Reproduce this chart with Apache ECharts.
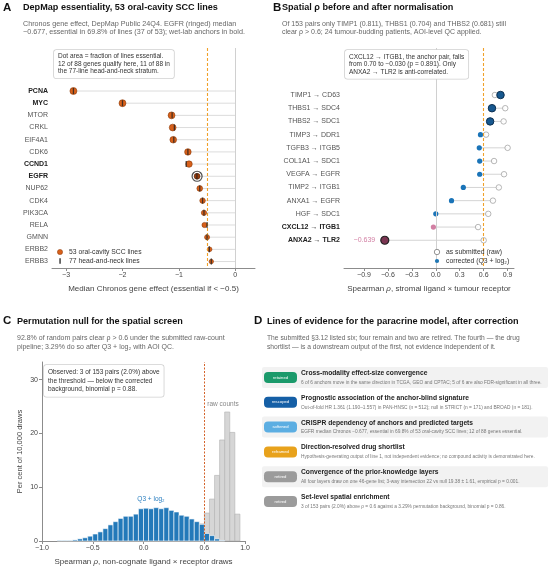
<!DOCTYPE html>
<html>
<head>
<meta charset="utf-8">
<script src="https://cdn.jsdelivr.net/npm/echarts@6/dist/echarts.min.js"></script>
<style>
  html, body { margin: 0; padding: 0; background: #fff; }
  #main { width: 550px; height: 567px; }
</style>
</head>
<body>
<div id="main"></div>
<script>
/* ---- panel A : DepMap essentiality ---- */
var genes = ['PCNA', 'MYC', 'MTOR', 'CRKL', 'EIF4A1', 'CDK6', 'CCND1', 'EGFR',
             'NUP62', 'CDK4', 'PIK3CA', 'RELA', 'GMNN', 'ERBB2', 'ERBB3'];
var oralMedian = [-2.87, -2.00, -1.13, -1.11, -1.10, -0.84, -0.82, -0.677,
                  -0.63, -0.58, -0.555, -0.545, -0.50, -0.455, -0.425];
var hnMedian = [-2.87, -2.00, -1.12, -1.08, -1.09, -0.84, -0.87, -0.68,
                -0.63, -0.58, -0.555, -0.50, -0.50, -0.46, -0.425];
var fracEssential = [1.0, 0.98, 0.96, 0.94, 0.90, 0.87, 0.85, 0.698,
                     0.66, 0.62, 0.57, 0.55, 0.51, 0.45, 0.40];
var anchorGenes = ['PCNA', 'MYC', 'CCND1', 'EGFR'];
var geneTicks = [-3, -2, -1, 0];

/* ---- panel B : spatial rho ---- */
var pairs = ['TIMP1 → CD63', 'THBS1 → SDC4', 'THBS2 → SDC1', 'TIMP3 → DDR1',
             'TGFB3 → ITGB5', 'COL1A1 → SDC1', 'VEGFA → EGFR', 'TIMP2 → ITGB1',
             'ANXA1 → EGFR', 'HGF → SDC1', 'CXCL12 → ITGB1', 'ANXA2 → TLR2'];
var rhoRaw = [0.74, 0.87, 0.85, 0.63, 0.90, 0.73, 0.855, 0.79, 0.716, 0.657, 0.53, 0.60];
var rhoCorrected = [0.811, 0.704, 0.681, 0.56, 0.545, 0.55, 0.55, 0.345, 0.197, 0.0, -0.030, -0.639];
var rhoTicks = [-0.9, -0.6, -0.3, 0, 0.3, 0.6, 0.9];

/* ---- panel C : permutation null ---- */
var binWidth = 0.05;
var q3BinLeft = [-0.85, -0.80, -0.75, -0.70, -0.65, -0.60, -0.55, -0.50, -0.45, -0.40, -0.35,
                 -0.30, -0.25, -0.20, -0.15, -0.10, -0.05, 0.00, 0.05, 0.10, 0.15, 0.20,
                 0.25, 0.30, 0.35, 0.40, 0.45, 0.50, 0.55, 0.60, 0.65, 0.70, 0.75];
var q3Pct = [0.1, 0.1, 0.1, 0.2, 0.4, 0.6, 0.9, 1.3, 1.7, 2.3, 3.0,
             3.6, 4.2, 4.6, 4.6, 5.0, 6.0, 6.1, 6.0, 6.2, 6.0, 6.2,
             5.7, 5.4, 4.8, 4.6, 4.1, 3.6, 3.1, 1.4, 1.0, 0.4, 0.1];
var rawBinLeft = [0.55, 0.60, 0.65, 0.70, 0.75, 0.80, 0.85, 0.90];
var rawPct = [3.2, 5.2, 7.8, 12.2, 18.8, 24.0, 20.2, 5.0];
var nullTicks = [-1, -0.5, 0, 0.6, 1];
var pctTicks = [0, 10, 20, 30];

/* ---- panel D : lines of evidence ---- */
var evidenceStatus = ['retained', 'rescoped', 'softened', 'reframed', 'retired', 'retired'];
var evidenceTitle = [
  'Cross-modality effect-size convergence',
  'Prognostic association of the anchor-blind signature',
  'CRISPR dependency of anchors and predicted targets',
  'Direction-resolved drug shortlist',
  'Convergence of the prior-knowledge layers',
  'Set-level spatial enrichment'
];
var evidenceNote = [
  '6 of 6 anchors move in the same direction in TCGA, GEO and CPTAC; 5 of 6 are also FDR-significant in all three.',
  'Out-of-fold HR 1.361 (1.190–1.557) in PAN-HNSC (n = 512); null in STRICT (n = 171) and BROAD (n = 181).',
  'EGFR median Chronos −0.677, essential in 69.8% of 53 oral-cavity SCC lines; 12 of 88 genes essential.',
  'Hypothesis-generating output of line 1, not independent evidence; no compound activity is demonstrated here.',
  'All four layers draw on one 46-gene list; 3-way intersection 22 vs null 19.38 ± 1.61, empirical p = 0.001.',
  '3 of 153 pairs (2.0%) above ρ = 0.6 against a 3.29% permutation background, binomial p = 0.86.'
];

var FONT = '"Liberation Sans", Arial, sans-serif';
var statusColor = {
  retained: '#1b9a6b', rescoped: '#155fa6', softened: '#5caee2',
  reframed: '#e8a21c', retired: '#9b9b9b'
};

function fmt(v, d) {
  var s = Math.abs(v).toFixed(d);
  return (v < -1e-9 ? '−' : '') + s;
}

function txt(x, y, s, size, color, weight, align) {
  return {
    type: 'text', z: 100, silent: true,
    style: {
      text: s, x: x, y: y, fill: color,
      fontSize: size, fontWeight: weight || 'normal', fontFamily: FONT,
      align: align || 'left', verticalAlign: 'middle',
      textAlign: align || 'left', textVerticalAlign: 'middle'
    }
  };
}

function note(x, y, s, lh) {
  return {
    type: 'text', z: 100, silent: true,
    style: {
      text: s, x: x, y: y, fill: '#333', fontSize: 6.5, fontFamily: FONT,
      lineHeight: lh, backgroundColor: '#fff', borderColor: '#d0d0d0',
      borderWidth: 0.8, borderRadius: 2.5, padding: [3, 4, 3, 4],
      align: 'left', verticalAlign: 'top', textAlign: 'left', textVerticalAlign: 'top'
    }
  };
}

// stem between two x values on one row
function stemItem(color) {
  return function (params, api) {
    var a = api.coord([api.value(0), api.value(2)]);
    var b = api.coord([api.value(1), api.value(2)]);
    return {
      type: 'line', shape: { x1: a[0], y1: a[1], x2: b[0], y2: b[1] },
      style: { stroke: color, lineWidth: 1 }
    };
  };
}

function histItem(fill, stroke) {
  return function (params, api) {
    var p0 = api.coord([api.value(0), api.value(1)]);
    var p1 = api.coord([api.value(0) + binWidth, 0]);
    return {
      type: 'rect',
      shape: { x: p0[0], y: p0[1], width: p1[0] - p0[0], height: p1[1] - p0[1] },
      style: { fill: fill, stroke: stroke, lineWidth: 0.6 }
    };
  };
}

var labelColor = '#444';
var axisGray = '#8c8c8c';

/* ---------- series data ---------- */
var stemA = genes.map(function (g, i) { return [oralMedian[i], 0, i]; });
var dotsA = genes.map(function (g, i) {
  return {
    value: [oralMedian[i], i],
    symbolSize: Math.sqrt(fracEssential[i]) * 7,
    itemStyle: g === 'EGFR' ? { color: '#9a3c0c', borderColor: '#4a1d05' } : undefined
  };
});
var hnA = genes.map(function (g, i) { return [hnMedian[i], i]; });
var egfrIdx = genes.indexOf('EGFR');

var stemB = pairs.map(function (p, i) { return [rhoRaw[i], rhoCorrected[i], i]; });
var rawB = pairs.map(function (p, i) { return [rhoRaw[i], i]; });
var corrB = pairs.map(function (p, i) {
  var v = rhoCorrected[i];
  var item = { value: [v, i] };
  if (p.indexOf('ANXA2') === 0) {
    item.symbolSize = 8;
    item.itemStyle = { color: '#7b3552', borderColor: '#222', borderWidth: 1.2 };
    item.label = { show: true, position: 'left', distance: 5, formatter: fmt(v, 3),
                   color: '#d27fa3', fontSize: 7 };
  } else if (p.indexOf('CXCL12') === 0) {
    item.itemStyle = { color: '#d27fa3' };
  } else if (v > 0.6) {
    item.symbolSize = 7.5;
    item.itemStyle = { color: '#17588f', borderColor: '#0c2f50', borderWidth: 1 };
  }
  return item;
});

var q3Data = q3BinLeft.map(function (x, i) { return [x, q3Pct[i]]; });
var rawData = rawBinLeft.map(function (x, i) { return [x, rawPct[i]]; });

/* ---------- titles, notes, legends, panel D ---------- */
var TS = 9.1;
var g = [];
g.push(txt(3, 8, 'A', 11.5, '#111', 'bold'));
g.push(txt(23, 7.5, 'DepMap essentiality, 53 oral-cavity SCC lines', TS, '#111', 'bold'));
g.push(txt(23, 24, 'Chronos gene effect, DepMap Public 24Q4. EGFR (ringed) median', 7.2, '#666'));
g.push(txt(23, 32.5, '−0.677, essential in 69.8% of lines (37 of 53); wet-lab anchors in bold.', 7.2, '#666'));
g.push(note(54, 50, 'Dot area = fraction of lines essential.\n12 of 88 genes qualify here, 11 of 88 in\nthe 77-line head-and-neck stratum.', 7.4));
g.push({ type: 'circle', z: 100, silent: true, shape: { cx: 60, cy: 252, r: 2.6 },
         style: { fill: '#d8601a', stroke: '#8a3a0a', lineWidth: 0.5 } });
g.push(txt(69, 252, '53 oral-cavity SCC lines', 6.8, '#333'));
g.push({ type: 'rect', z: 100, silent: true, shape: { x: 59.4, y: 258.2, width: 1.3, height: 5.6 },
         style: { fill: '#222' } });
g.push(txt(69, 261, '77 head-and-neck lines', 6.8, '#333'));

g.push(txt(273, 8, 'B', 11.5, '#111', 'bold'));
g.push(txt(282, 7.5, 'Spatial ρ before and after normalisation', TS, '#111', 'bold'));
g.push(txt(282, 24, 'Of 153 pairs only TIMP1 (0.811), THBS1 (0.704) and THBS2 (0.681) still', 7, '#666'));
g.push(txt(282, 32.5, 'clear ρ > 0.6; 24 tumour-budding patients, AOI-level QC applied.', 7, '#666'));
g.push(note(345, 50, 'CXCL12 → ITGB1, the anchor pair, falls\nfrom 0.70 to −0.030 (p = 0.891). Only\nANXA2 → TLR2 is anti-correlated.', 7.6));
g.push({ type: 'circle', z: 100, silent: true, shape: { cx: 437, cy: 252, r: 2.7 },
         style: { fill: '#fff', stroke: '#888', lineWidth: 0.9 } });
g.push(txt(446, 252, 'as submitted (raw)', 6.8, '#333'));
g.push({ type: 'circle', z: 100, silent: true, shape: { cx: 437, cy: 261, r: 2.1 },
         style: { fill: '#1f77b4' } });
g.push(txt(446, 261, 'corrected (Q3 + log₂)', 6.8, '#333'));

g.push(txt(3, 321, 'C', 11.5, '#111', 'bold'));
g.push(txt(17, 321, 'Permutation null for the spatial screen', TS, '#111', 'bold'));
g.push(txt(17, 338, '92.8% of random pairs clear ρ > 0.6 under the submitted raw-count', 7, '#666'));
g.push(txt(17, 347, 'pipeline; 3.29% do so after Q3 + log₂ with AOI QC.', 7, '#666'));
g.push(note(44, 365, 'Observed: 3 of 153 pairs (2.0%) above\nthe threshold — below the corrected\nbackground, binomial p = 0.88.', 8.6));
g.push(txt(223, 404, 'raw counts', 6.5, '#888', 'normal', 'center'));
g.push(txt(151, 499, 'Q3 + log₂', 6.5, '#2a7fc0', 'normal', 'center'));

g.push(txt(254, 321, 'D', 11.5, '#111', 'bold'));
g.push(txt(267, 321, 'Lines of evidence for the paracrine model, after correction', TS, '#111', 'bold'));
g.push(txt(267, 338, 'The submitted §3.12 listed six; four remain and two are retired. The fourth — the drug', 6.7, '#666'));
g.push(txt(267, 347, 'shortlist — is a downstream output of the first, not evidence independent of it.', 6.7, '#666'));
evidenceTitle.forEach(function (t, i) {
  var cy = 377.5 + i * 24.8;
  if (i % 2 === 0) {
    g.push({ type: 'rect', z: 90, silent: true,
             shape: { x: 262, y: cy - 10.5, width: 286, height: 21, r: 2 },
             style: { fill: '#f2f2f2' } });
  }
  g.push({ type: 'rect', z: 100, silent: true,
           shape: { x: 264, y: cy - 5.5, width: 33, height: 11, r: 4 },
           style: { fill: statusColor[evidenceStatus[i]] } });
  g.push(txt(280.5, cy, evidenceStatus[i], 4.2, '#fff', 'normal', 'center'));
  g.push(txt(301, cy - 4.3, t, 6.7, '#222', 'bold'));
  g.push(txt(301, cy + 5, evidenceNote[i], 4.8, '#777'));
});

/* ---------- option ---------- */
function valueTickAxis(ticks, dec, min, max, extra) {
  var ax = {
    type: 'value', min: min, max: max,
    axisLine: { show: true, onZero: false, lineStyle: { color: axisGray, width: 1 } },
    axisTick: { show: true, customValues: ticks, length: 3, lineStyle: { color: axisGray } },
    axisLabel: { customValues: ticks, color: labelColor, fontSize: 7, margin: 4,
                 formatter: function (v) { return fmt(v, dec); } },
    splitLine: { show: false }
  };
  for (var k in extra) ax[k] = extra[k];
  return ax;
}

var rowIdxA = genes.map(function (x, i) { return i; });
var rowIdxB = pairs.map(function (x, i) { return i; });
var italicRho = { i: { fontStyle: 'italic', fontSize: 8, color: labelColor } };

var option = {
  animation: false,
  textStyle: { fontFamily: FONT },
  grid: [
    { left: 52, top: 48, width: 203, height: 220 },
    { left: 344, top: 48, width: 170, height: 220 },
    { left: 42, top: 362, width: 203, height: 179 }
  ],
  xAxis: [
    valueTickAxis(geneTicks, 0, -3.25, 0.35, {
      gridIndex: 0,
      name: 'Median Chronos gene effect (essential if < −0.5)',
      nameLocation: 'middle', nameGap: 17,
      nameTextStyle: { color: labelColor, fontSize: 8 }
    }),
    valueTickAxis(rhoTicks, 1, -1.15, 0.98, {
      gridIndex: 1,
      name: 'Spearman {i|ρ}, stromal ligand × tumour receptor',
      nameLocation: 'middle', nameGap: 17,
      nameTextStyle: { color: labelColor, fontSize: 8, rich: italicRho }
    }),
    valueTickAxis(nullTicks, 1, -1, 1, {
      gridIndex: 2,
      name: 'Spearman {i|ρ}, non-cognate ligand × receptor draws',
      nameLocation: 'middle', nameGap: 17,
      nameTextStyle: { color: labelColor, fontSize: 8, rich: italicRho }
    })
  ],
  yAxis: [
    {
      gridIndex: 0, type: 'value', inverse: true, min: -3.53, max: 14.53,
      axisLine: { show: false, onZero: false }, axisTick: { show: false }, splitLine: { show: false },
      axisLabel: {
        customValues: rowIdxA, margin: 4,
        formatter: function (v) {
          var n = genes[Math.round(v)];
          return anchorGenes.indexOf(n) >= 0 ? '{b|' + n + '}' : '{n|' + n + '}';
        },
        rich: {
          b: { fontSize: 7, fontWeight: 'bold', color: '#222' },
          n: { fontSize: 7, color: '#555' }
        }
      }
    },
    {
      gridIndex: 1, type: 'value', inverse: true, min: -3.56, max: 13.1,
      axisLine: { show: false, onZero: false }, axisTick: { show: false }, splitLine: { show: false },
      axisLabel: {
        customValues: rowIdxB, margin: 4,
        formatter: function (v) {
          var n = pairs[Math.round(v)];
          var bold = n.indexOf('CXCL12') === 0 || n.indexOf('ANXA2') === 0;
          return bold ? '{b|' + n + '}' : '{n|' + n + '}';
        },
        rich: {
          b: { fontSize: 7, fontWeight: 'bold', color: '#222' },
          n: { fontSize: 7, color: '#555' }
        }
      }
    },
    valueTickAxis(pctTicks, 0, 0, 33.3, {
      gridIndex: 2,
      name: 'Per cent of 10,000 draws',
      nameLocation: 'middle', nameGap: 18, nameRotate: 90,
      nameTextStyle: { color: labelColor, fontSize: 7.5 }
    })
  ],
  graphic: { elements: g },
  series: [
    /* A */
    {
      type: 'custom', xAxisIndex: 0, yAxisIndex: 0, data: stemA,
      renderItem: stemItem('#dcdcdc'), z: 1,
      markLine: {
        silent: true, symbol: 'none', label: { show: false },
        data: [
          { xAxis: 0, lineStyle: { color: '#d0d0d0', type: 'solid', width: 1 } },
          { xAxis: -0.5, lineStyle: { color: '#f0a12a', type: [3, 2], width: 1.1 } }
        ]
      }
    },
    {
      type: 'scatter', xAxisIndex: 0, yAxisIndex: 0, data: dotsA, z: 3,
      itemStyle: { color: '#d8601a', borderColor: '#8a3a0a', borderWidth: 0.6, opacity: 1 }
    },
    {
      type: 'scatter', xAxisIndex: 0, yAxisIndex: 0, z: 4,
      data: [[oralMedian[egfrIdx], egfrIdx]], symbolSize: 10,
      itemStyle: { color: 'rgba(0,0,0,0)', borderColor: '#222', borderWidth: 1.2 }
    },
    {
      type: 'scatter', xAxisIndex: 0, yAxisIndex: 0, data: hnA, z: 5,
      symbol: 'rect', symbolSize: [1.3, 6], itemStyle: { color: '#222' }
    },
    /* B */
    {
      type: 'custom', xAxisIndex: 1, yAxisIndex: 1, data: stemB,
      renderItem: stemItem('#d4d4d4'), z: 1,
      markLine: {
        silent: true, symbol: 'none', label: { show: false },
        data: [
          { xAxis: 0, lineStyle: { color: '#d0d0d0', type: 'solid', width: 1 } },
          { xAxis: 0.6, lineStyle: { color: '#f0a12a', type: [3, 2], width: 1.1 } }
        ]
      }
    },
    {
      type: 'scatter', xAxisIndex: 1, yAxisIndex: 1, data: rawB, z: 3, symbolSize: 5.5,
      itemStyle: { color: '#fff', borderColor: '#9a9a9a', borderWidth: 0.9 }
    },
    {
      type: 'scatter', xAxisIndex: 1, yAxisIndex: 1, data: corrB, z: 4, symbolSize: 5.2,
      itemStyle: { color: '#1a74b8', opacity: 1 }
    },
    /* C */
    {
      type: 'custom', xAxisIndex: 2, yAxisIndex: 2, data: rawData, z: 2,
      renderItem: histItem('#d6d6d6', '#b0b0b0'),
      markLine: {
        silent: true, symbol: 'none', label: { show: false },
        data: [{ xAxis: 0.6, lineStyle: { color: '#d4632a', type: [2, 1.5], width: 1 } }]
      }
    },
    {
      type: 'custom', xAxisIndex: 2, yAxisIndex: 2, data: q3Data, z: 3,
      renderItem: histItem('#2379b9', '#ffffff')
    }
  ]
};

var chart = echarts.init(document.getElementById('main'));
chart.setOption(option);
</script>
</body>
</html>
